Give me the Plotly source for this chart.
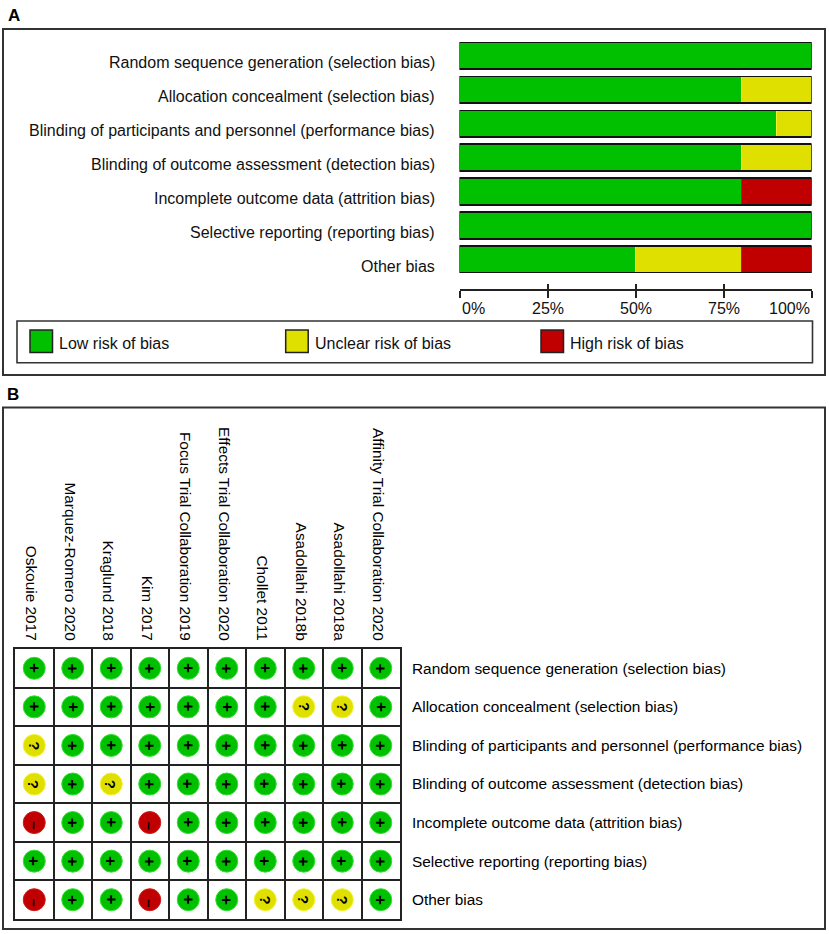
import plotly.graph_objects as go

W, H = 829, 934


def fx(px):
    return px / W


def fy(py):
    return 1 - py / H


# ---------------- data ----------------
domains = [
    "Random sequence generation (selection bias)",
    "Allocation concealment (selection bias)",
    "Blinding of participants and personnel (performance bias)",
    "Blinding of outcome assessment (detection bias)",
    "Incomplete outcome data (attrition bias)",
    "Selective reporting (reporting bias)",
    "Other bias",
]
low_pct = [100, 80, 90, 80, 80, 100, 50]
unclear_pct = [0, 20, 10, 20, 0, 0, 30]
high_pct = [0, 0, 0, 0, 20, 0, 20]

pct_ticks = [0, 25, 50, 75, 100]
pct_labels = ["0%", "25%", "50%", "75%", "100%"]

studies = [
    "Oskouie 2017",
    "Marquez-Romero 2020",
    "Kraglund 2018",
    "Kim 2017",
    "Focus Trial Collaboration 2019",
    "Effects Trial Collaboration 2020",
    "Chollet 2011",
    "Asadollahi 2018b",
    "Asadollahi 2018a",
    "Affinity Trial Collaboration 2020",
]
# rows = domains, columns = studies
judgements = [
    ["+", "+", "+", "+", "+", "+", "+", "+", "+", "+"],
    ["+", "+", "+", "+", "+", "+", "+", "?", "?", "+"],
    ["?", "+", "+", "+", "+", "+", "+", "+", "+", "+"],
    ["?", "+", "?", "+", "+", "+", "+", "+", "+", "+"],
    ["-", "+", "+", "-", "+", "+", "+", "+", "+", "+"],
    ["+", "+", "+", "+", "+", "+", "+", "+", "+", "+"],
    ["-", "+", "+", "-", "+", "+", "?", "?", "?", "+"],
]

risk_names = ["Low risk of bias", "Unclear risk of bias", "High risk of bias"]
risk_symbols = ["+", "?", "-"]
risk_glyphs = ["+", "?", "\u2013"]
risk_colors = ["#00C000", "#E0E000", "#C00000"]
risk_edges = ["#30E030", "#F2F230", "#D01818"]

FONT = "Arial, Liberation Sans, sans-serif"

fig = go.Figure()

# ---------------- panel A: stacked bars ----------------
for vals, name, col, edge in zip([low_pct, unclear_pct, high_pct], risk_names, risk_colors, risk_edges):
    fig.add_trace(go.Bar(
        x=vals, y=domains, orientation="h", name=name,
        marker=dict(color=col, line=dict(color=edge, width=1)),
        xaxis="x", yaxis="y", showlegend=False, hoverinfo="skip",
    ))

totals = [a + b + c for a, b, c in zip(low_pct, unclear_pct, high_pct)]
fig.add_trace(go.Bar(
    x=totals, y=domains, orientation="h",
    marker=dict(color="rgba(0,0,0,0)", line=dict(color="#111111", width=1.6)),
    xaxis="x3", yaxis="y", showlegend=False, hoverinfo="skip",
))

# ---------------- panel B: judgement grid ----------------
gx, gy, gc, ge = [], [], [], []
for r, row in enumerate(judgements):
    for c, j in enumerate(row):
        k = risk_symbols.index(j)
        gx.append(c)
        gy.append(r)
        gc.append(risk_colors[k])
        ge.append(risk_edges[k])

fig.add_trace(go.Scatter(
    x=gx, y=gy, mode="markers", xaxis="x2", yaxis="y2",
    marker=dict(size=22, color=gc, line=dict(color=ge, width=1)),
    showlegend=False, hoverinfo="skip",
))

annotations = []
sym_size = {"+": 17, "?": 15, "-": 15}
for r, row in enumerate(judgements):
    for c, j in enumerate(row):
        k = risk_symbols.index(j)
        annotations.append(dict(
            x=c, y=r, xref="x2", yref="y2", text="<b>%s</b>" % risk_glyphs[k],
            showarrow=False, textangle=90,
            xshift=0, yshift=(-3 if j == "-" else 0),
            font=dict(family=FONT, size=sym_size[j], color="black"),
        ))

# percentage tick labels of panel A (end labels aligned inward as in RevMan)
for i, (tv, tl) in enumerate(zip(pct_ticks, pct_labels)):
    anchor = "left" if i == 0 else ("right" if i == len(pct_ticks) - 1 else "center")
    annotations.append(dict(
        x=tv, y=fy(308), xref="x", yref="paper", text=tl, xanchor=anchor,
        yanchor="middle", showarrow=False,
        font=dict(family=FONT, size=16, color="#111111"),
    ))

# row labels for panel A
for d in domains:
    annotations.append(dict(
        x=fx(437), y=d, xref="paper", yref="y", text=d, xanchor="right",
        yanchor="middle", yshift=-7, showarrow=False,
        font=dict(family=FONT, size=16, color="#111111"),
    ))

# panel letters
annotations.append(dict(x=fx(6), y=fy(15), xref="paper", yref="paper", text="<b>A</b>",
                        xanchor="left", yanchor="middle", showarrow=False,
                        font=dict(family=FONT, size=17, color="black")))
annotations.append(dict(x=fx(5), y=fy(394), xref="paper", yref="paper", text="<b>B</b>",
                        xanchor="left", yanchor="middle", showarrow=False,
                        font=dict(family=FONT, size=17, color="black")))

shapes = []
# outer boxes
shapes.append(dict(type="rect", xref="paper", yref="paper", x0=fx(3), x1=fx(825),
                   y0=fy(375), y1=fy(29), line=dict(color="#333333", width=2)))
shapes.append(dict(type="rect", xref="paper", yref="paper", x0=fx(3), x1=fx(825),
                   y0=fy(929), y1=fy(407.5), line=dict(color="#333333", width=2)))
# legend box
shapes.append(dict(type="rect", xref="paper", yref="paper", x0=fx(17), x1=fx(812.5),
                   y0=fy(362.7), y1=fy(321), line=dict(color="#333333", width=1.6)))
legend_x = [30, 285.7, 541]
for lx, name, col in zip(legend_x, risk_names, risk_colors):
    shapes.append(dict(type="rect", xref="paper", yref="paper", x0=fx(lx), x1=fx(lx + 22.5),
                       y0=fy(352.5), y1=fy(330), fillcolor=col,
                       line=dict(color="#222222", width=1.5)))
    annotations.append(dict(x=fx(lx + 27), y=fy(343), xref="paper", yref="paper", text=name,
                            xanchor="left", yanchor="middle", showarrow=False,
                            font=dict(family=FONT, size=16, color="#111111")))

row_h = 34.0
top_a = 55.3 - row_h / 2
bot_a = top_a + row_h * len(domains)

fig.update_layout(
    template="none",
    width=W, height=H,
    margin=dict(l=0, r=0, t=0, b=0, pad=0),
    paper_bgcolor="white", plot_bgcolor="white",
    barmode="stack", bargap=1 - 26.7 / row_h,
    font=dict(family=FONT, color="#111111"),
    showlegend=False,
    xaxis=dict(
        domain=[fx(459.5), fx(811.5)], range=[0, 100], anchor="free", position=fy(290),
        tickvals=pct_ticks, showticklabels=False, ticks="outside", ticklen=7, tickwidth=1.5,
        tickcolor="#222222", showline=True, linecolor="#222222", linewidth=1.5,
        showgrid=False, zeroline=False,
        automargin=False, fixedrange=True,
    ),
    xaxis3=dict(
        domain=[fx(459.5), fx(811.5)], range=[0, 100], anchor="free", position=fy(290),
        overlaying="x", tickvals=pct_ticks, ticks="inside", ticklen=6, tickwidth=1.5,
        tickcolor="#222222", showticklabels=False, showline=False, showgrid=False,
        zeroline=False, automargin=False,
    ),
    yaxis=dict(
        domain=[fy(bot_a), fy(top_a)], autorange="reversed", showticklabels=False,
        showgrid=False, zeroline=False, showline=False, ticks="", anchor="x",
        automargin=False,
    ),
    xaxis2=dict(
        domain=[fx(15), fx(400)], range=[-0.5, len(studies) - 0.5], side="top", anchor="y2",
        tickvals=list(range(len(studies))), ticktext=studies, tickangle=90, ticks="",
        ticklabelstandoff=1, ticklabelshift=-3, ticklabeloverflow="allow",
        tickfont=dict(size=15.4, family=FONT, color="black"),
        showgrid=False, zeroline=False, showline=True, mirror=True,
        linecolor="#222222", linewidth=1.8, automargin=False,
        minor=dict(tickvals=[i + 0.5 for i in range(len(studies) - 1)], showgrid=True,
                   gridcolor="#222222", gridwidth=1.5, ticks=""),
    ),
    yaxis2=dict(
        domain=[fy(919), fy(649)], range=[len(domains) - 0.5, -0.5], side="right", anchor="x2",
        tickvals=list(range(len(domains))), ticktext=domains, ticks="",
        ticklabelstandoff=7, ticklabeloverflow="allow",
        tickfont=dict(size=15.4, family=FONT, color="black"),
        showgrid=False, zeroline=False, showline=True, mirror=True,
        linecolor="#222222", linewidth=1.8, automargin=False,
        minor=dict(tickvals=[i + 0.5 for i in range(len(domains) - 1)], showgrid=True,
                   gridcolor="#222222", gridwidth=1.5, ticks=""),
    ),
    shapes=shapes,
    annotations=annotations,
)

fig.write_html(
    "out.html",
    config={"displayModeBar": False},
    post_script="document.body.style.margin='0';document.body.style.overflow='hidden';",
)
